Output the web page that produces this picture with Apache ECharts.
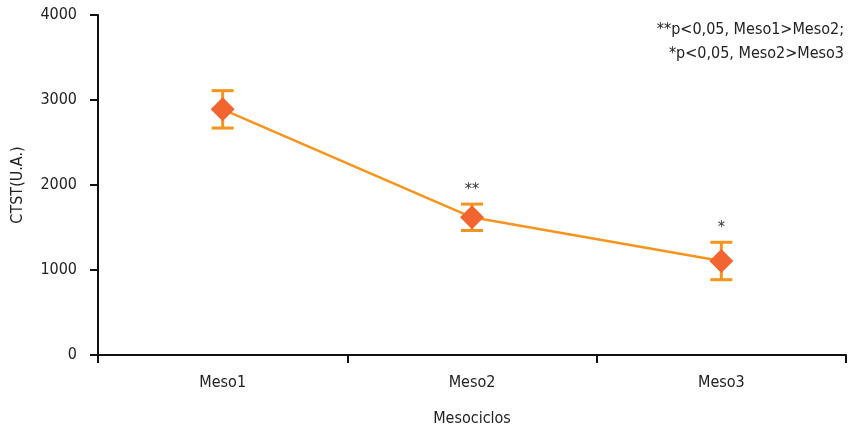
<!DOCTYPE html>
<html><head><meta charset="utf-8">
<script src="https://cdn.jsdelivr.net/npm/echarts@6/dist/echarts.min.js"></script>
<style>html,body{margin:0;padding:0;background:#fff}#c{width:848px;height:428px}</style>
</head><body><div id="c"></div>
<script>
const categories = ['Meso1', 'Meso2', 'Meso3'];
const means = [2890, 1620, 1106];
const errors = [220, 155, 220];
const sigMarks = ['', '**', '*'];
const yTicks = [0, 1000, 2000, 3000, 4000];
const noteLines = ['**p<0,05, Meso1>Meso2;', '*p<0,05, Meso2>Meso3'];

const FONT = '"Liberation Sans Narrow", "DejaVu Sans Condensed", sans-serif';
const chart = echarts.init(document.getElementById('c'));
const errData = categories.map((c, i) => [i, means[i] - errors[i], means[i] + errors[i], sigMarks[i]]);

chart.setOption({
  animation: false,
  grid: { left: 98, right: 2, top: 15, bottom: 73, containLabel: false, outerBoundsMode: 'none' },
  xAxis: {
    type: 'category', data: categories, boundaryGap: true,
    name: 'Mesociclos', nameLocation: 'middle', nameGap: 56,
    nameTextStyle: { fontFamily: FONT, fontSize: 16, color: '#222' },
    axisLine: { lineStyle: { color: '#111', width: 2 } },
    axisTick: { show: true, length: 8, lineStyle: { color: '#111', width: 2 }, alignWithLabel: false },
    axisLabel: { fontFamily: FONT, fontSize: 16, color: '#222', margin: 20 }
  },
  yAxis: {
    type: 'value', min: 0, max: 4000, interval: 1000,
    name: 'CTST(U.A.)', nameLocation: 'middle', nameGap: 72, nameRotate: 90,
    nameTextStyle: { fontFamily: FONT, fontSize: 16, color: '#222' },
    axisLine: { show: true, lineStyle: { color: '#111', width: 2 } },
    axisTick: { show: true, length: 8, lineStyle: { color: '#111', width: 2 } },
    axisLabel: { fontFamily: FONT, fontSize: 16, color: '#222', margin: 21,
      formatter: v => yTicks.includes(v) ? String(v) : '' },
    splitLine: { show: false }
  },
  graphic: noteLines.map((t, i) => ({
    type: 'text', right: 4, top: 22 + i * 24,
    style: { text: t, font: '16px ' + FONT, fill: '#222', textAlign: 'right' }
  })),
  series: [
    {
      type: 'custom', z: 2,
      data: errData,
      renderItem: (params, api) => {
        const x = api.coord([api.value(0), 0])[0];
        const lo = api.coord([api.value(0), api.value(1)])[1];
        const hi = api.coord([api.value(0), api.value(2)])[1];
        const hw = 11;
        const st = { stroke: '#F7941D', lineWidth: 3 };
        const children = [
          { type: 'line', shape: { x1: x, y1: lo, x2: x, y2: hi }, style: st },
          { type: 'line', shape: { x1: x - hw, y1: lo, x2: x + hw, y2: lo }, style: st },
          { type: 'line', shape: { x1: x - hw, y1: hi, x2: x + hw, y2: hi }, style: st }
        ];
        const s = sigMarks[params.dataIndex];
        if (s) children.push({ type: 'text', style: { text: s, x: x, y: hi - 6, textAlign: 'center', textVerticalAlign: 'bottom', font: '16px ' + FONT, fill: '#333' } });
        return { type: 'group', children };
      }
    },
    {
      type: 'line', z: 3, data: means,
      lineStyle: { color: '#F7941D', width: 2.5 },
      symbol: 'diamond', symbolSize: 24,
      itemStyle: { color: '#F26531' }
    }
  ]
});
</script></body></html>
